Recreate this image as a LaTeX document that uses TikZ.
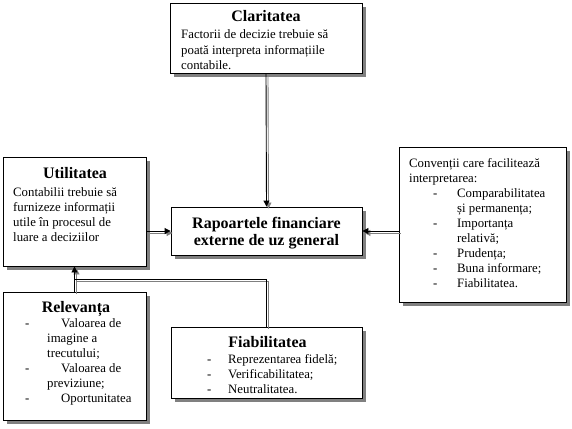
\documentclass[tikz,border=0pt]{standalone}
\usepackage{fontspec}
\setmainfont{Liberation Serif}
\usetikzlibrary{arrows.meta,shadows}
\begin{document}
\begin{tikzpicture}[x=1pt,y=-1pt,
  box/.style={draw=black, line width=0.9pt, fill=white, inner sep=0pt,
    drop shadow={shadow xshift=4pt, shadow yshift=-4pt, fill=black!50, opacity=1}},
  txt/.style={inner sep=0pt, anchor=base west, font=\fontsize{12.8}{15}\selectfont},
  ttl/.style={inner sep=0pt, anchor=base, font=\fontsize{16}{18}\selectfont\bfseries},
  conn/.style={draw=black, line width=0.9pt},
  connsh/.style={draw=black!50, line width=0.9pt, transform canvas={shift={(2pt,-2pt)}}},
  tip/.style={-{Triangle[length=6pt,width=6pt]}}
]
\useasboundingbox[fill=white] (0,0) rectangle (572,428);

% boxes
\node[box, minimum width=192pt, minimum height=70pt] (clar) at (266,38) {};
\node[box, minimum width=143pt, minimum height=109pt] (util) at (74.5,211.5) {};
\node[box, minimum width=191pt, minimum height=48pt] (rap) at (266.5,231) {};
\node[box, minimum width=167pt, minimum height=155pt] (conv) at (482.5,224.5) {};
\node[box, minimum width=143pt, minimum height=128pt] (rel) at (74.5,356) {};
\node[box, minimum width=191pt, minimum height=71pt] (fiab) at (266.5,362.5) {};

% connectors (shadow first, then black)
\coordinate (jy) at (0,279);
\draw[connsh, tip] (clar.south) -- (rap.north);
\draw[conn, tip] (clar.south) -- (rap.north);
\draw[connsh, tip] (util.east |- rap.west) -- (rap.west);
\draw[conn, tip] (util.east |- rap.west) -- (rap.west);
\draw[connsh, tip] (conv.west |- rap.east) -- (rap.east);
\draw[conn, tip] (conv.west |- rap.east) -- (rap.east);
\draw[connsh] (fiab.north) |- (util.south |- jy);
\draw[connsh, tip] (rel.north) -- (util.south);
\draw[conn] (fiab.north) |- (util.south |- jy);
\draw[conn, tip] (rel.north) -- (util.south);

% Claritatea
\node[ttl] (clart) at (266,22) {Claritatea};
\node[txt] (clar1) at (181,39) {Factorii de decizie trebuie să};
\node[txt] (clar2) at (181,54) {poată interpreta informațiile};
\node[txt] (clar3) at (181,69) {contabile.};

% Utilitatea
\node[ttl] (utilt) at (75,178) {Utilitatea};
\node[txt] (util1) at (13,196) {Contabilii trebuie să};
\node[txt] (util2) at (13,211) {furnizeze informații};
\node[txt] (util3) at (13,226) {utile în procesul de};
\node[txt] (util4) at (13,241) {luare a deciziilor};

% Rapoartele
\node[ttl] (rap1) at (266.5,228) {Rapoartele financiare};
\node[ttl] (rap2) at (266.5,245) {externe de uz general};

% Conventii
\node[txt] (conv1) at (409,167) {Convenții care facilitează};
\node[txt] (conv2) at (409,182) {interpretarea:};
\node[txt] (convd1) at (433,197) {-};
\node[txt] (conv3) at (457,197) {Comparabilitatea};
\node[txt] (conv4) at (457,212) {și permanența;};
\node[txt] (convd2) at (433,227) {-};
\node[txt] (conv5) at (457,227) {Importanța};
\node[txt] (conv6) at (457,242) {relativă;};
\node[txt] (convd3) at (433,257) {-};
\node[txt] (conv7) at (457,257) {Prudența;};
\node[txt] (convd4) at (433,272) {-};
\node[txt] (conv8) at (457,272) {Buna informare;};
\node[txt] (convd5) at (433,287) {-};
\node[txt] (conv9) at (457,287) {Fiabilitatea.};

% Relevanta
\node[ttl] (relt) at (76,312) {Relevanța};
\node[txt] (reld1) at (25,327) {-};
\node[txt] (rel1) at (61,327) {Valoarea de};
\node[txt] (rel2) at (47,342) {imagine a};
\node[txt] (rel3) at (47,357) {trecutului;};
\node[txt] (reld2) at (25,372) {-};
\node[txt] (rel4) at (61,372) {Valoarea de};
\node[txt] (rel5) at (47,387) {previziune;};
\node[txt] (reld3) at (25,402) {-};
\node[txt] (rel6) at (61,402) {Oportunitatea};

% Fiabilitatea
\node[ttl] (fiabt) at (267.5,347) {Fiabilitatea};
\node[txt] (fiabd1) at (207,363) {-};
\node[txt] (fiab1) at (228,363) {Reprezentarea fidelă;};
\node[txt] (fiabd2) at (207,378) {-};
\node[txt] (fiab2) at (228,378) {Verificabilitatea;};
\node[txt] (fiabd3) at (207,393) {-};
\node[txt] (fiab3) at (228,393) {Neutralitatea.};
\end{tikzpicture}
\end{document}
